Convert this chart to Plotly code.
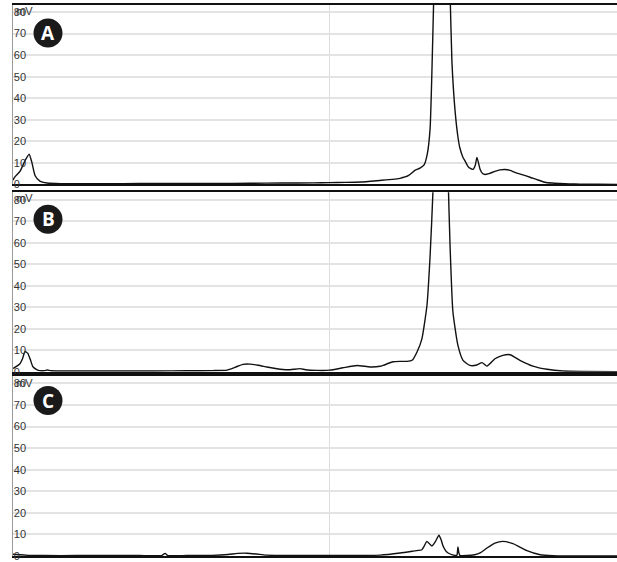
import plotly.graph_objects as go

# ---------------- data (time in min, signal in mV) ----------------
tA = [0, 0.06, 0.22, 0.38, 0.51, 0.60, 0.70, 0.85, 1.08, 1.5, 2.5, 3.5, 4.5, 5.5, 6.5, 7.5,
      8.5, 9.5, 10.0, 10.5, 11.0, 11.6, 12.0, 12.24, 12.5, 12.71, 12.87, 13.0, 13.1, 13.19,
      13.25, 13.31, 13.44, 13.57, 13.69, 13.82, 13.88, 13.98, 14.07, 14.13, 14.23, 14.29,
      14.38, 14.45, 14.55, 14.62, 14.67, 14.72, 14.77, 14.85, 14.93, 15.05, 15.24, 15.4,
      15.56, 15.72, 15.87, 16.1, 16.35, 16.6, 16.82, 17.05, 17.3, 17.6, 17.93, 18.5, 19.1]
vA = [2, 3.5, 6, 11, 14, 10, 4, 1.5, 0.6, 0.3, 0.3, 0.35, 0.4, 0.4, 0.45, 0.5,
      0.6, 0.7, 0.8, 0.9, 1.1, 1.8, 2.3, 2.8, 4, 6.5, 7.5, 9, 14, 26,
      54, 90, 170, 210, 170, 90, 57, 34, 22, 17, 12.5, 11,
      8.5, 7.5, 7, 9, 12.5, 10, 7, 5, 4.6, 5, 6, 6.7,
      6.9, 6.5, 5.6, 4.5, 3.3, 2, 1, 0.6, 0.4, 0.2, 0.1, 0.05, 0]

tB = [0, 0.06, 0.22, 0.30, 0.38, 0.47, 0.55, 0.63, 0.75, 0.85, 1.0, 1.08, 1.2, 1.5, 2.5,
      3.5, 4.5, 5.5, 6.3, 6.77, 7.02, 7.27, 7.49, 7.75, 8.03, 8.3, 8.54, 8.76, 9.08, 9.25,
      9.61, 10.02, 10.43, 10.88, 11.29, 11.61, 11.70, 12.02, 12.24, 12.46, 12.62, 12.78,
      12.93, 13.09, 13.19, 13.28, 13.4, 13.52, 13.64, 13.76, 13.82, 13.91, 14.07, 14.23,
      14.45, 14.67, 14.83, 14.99, 15.24, 15.49, 15.72, 16.03, 16.44, 16.89, 17.39, 18.0, 19.1]
vB = [1.5, 2, 3.7, 6, 9.4, 8.5, 5.5, 2.3, 1, 0.5, 0.5, 0.8, 0.4, 0.3, 0.3,
      0.3, 0.3, 0.4, 0.5, 0.7, 2, 3.4, 3.5, 3, 2.2, 1.5, 1.0, 0.9, 1.4, 0.9,
      0.6, 0.7, 1.8, 2.9, 2.2, 2.5, 2.9, 4.6, 4.8, 4.8, 5.3, 9.3,
      15.3, 30.8, 54, 84, 160, 200, 160, 90, 59, 28, 12.2, 5.3,
      2.9, 3.1, 4.2, 2.6, 6, 7.6, 7.9, 5.3, 2.6, 1.1, 0.3, 0.1, 0]

tC = [0, 0.2, 0.5, 1.0, 2.0, 3.0, 4.0, 4.7, 4.81, 4.9, 5.5, 6.3, 6.8, 7.1, 7.4, 7.7, 8.0,
      8.5, 9.5, 10.5, 11.29, 11.61, 12.24, 12.7, 12.93, 13.0, 13.09, 13.2, 13.25, 13.35,
      13.47, 13.55, 13.60, 13.68, 13.76, 13.9, 13.98, 14.04, 14.07, 14.10, 14.13, 14.36,
      14.6, 14.77, 14.99, 15.24, 15.49, 15.81, 16.25, 16.67, 17.08, 17.5, 19.1]
vC = [0.8, 0.6, 0.3, 0.2, 0.2, 0.2, 0.2, 0.2, 1.2, 0.2, 0.2, 0.3, 0.7, 1.2, 1.3, 0.9, 0.4,
      0.3, 0.3, 0.3, 0.3, 0.4, 1.4, 2.4, 2.9, 4.5, 6.8, 5.2, 4.6, 6.5,
      9.6, 7, 4.6, 2.5, 1.4, 0.5, 0.3, 0.5, 4.2, 1.5, 0.3, 0.2,
      0.6, 1.4, 3.7, 6, 6.8, 5.7, 2.5, 0.6, 0.1, 0, 0]

panel_letters = ["A", "B", "C"]
y_ticks = [0, 10, 20, 30, 40, 50, 60, 70, 80]
y_unit = "mV"
x_range = [0, 19.1]
x_grid = [10]

# ---------------- figure ----------------
W, H = 617, 562
ML, MR, MT, MB = 13, 0, 5, 4
ph = H - MT - MB

def py(ypix):  # pixel y (from top) -> paper y
    return (H - MB - ypix) / ph

def px(xpix):
    return (xpix - ML) / (W - ML - MR)

domains = [(py(185), 1.0), (py(373), py(193)), (0.0, py(377))]
yranges = [[0, 83.3], [0, 83.5], [0, 83.6]]
series = [(tA, vA), (tB, vB), (tC, vC)]

fig = go.Figure()
for i, (t, v) in enumerate(series):
    n = "" if i == 0 else str(i + 1)
    fig.add_trace(go.Scatter(x=t, y=v, mode="lines", xaxis="x" + n, yaxis="y" + n,
                             line=dict(color="#111111", width=1.4, shape="spline", smoothing=0.5),
                             showlegend=False, hoverinfo="skip"))
    fig.layout["xaxis" + n] = dict(domain=[0, 1], anchor="y" + n, range=x_range,
                                   tickvals=x_grid, showticklabels=False, ticks="",
                                   showgrid=True, gridcolor="#dcdcdc", gridwidth=1,
                                   zeroline=False, showline=True, linecolor="#111111",
                                   linewidth=2.2, mirror=True)
    fig.layout["yaxis" + n] = dict(domain=list(domains[i]), anchor="x" + n, range=yranges[i],
                                   tickvals=y_ticks, ticktext=[str(k) for k in y_ticks],
                                   ticklabelposition="inside", ticklabeloverflow="allow",
                                   ticks="", showgrid=True, gridcolor="#e3e3e3", gridwidth=1.5,
                                   zeroline=False, showline=True, linecolor="#9a9a9a",
                                   linewidth=1,
                                   tickfont=dict(family="Liberation Sans, Arial", size=11,
                                                 color="#333333"))

# circled panel letters
centers = [33, 220, 402]
shapes, annots = [], []
for letter, cy in zip(panel_letters, centers):
    shapes.append(dict(type="circle", xref="paper", yref="paper",
                       xsizemode="pixel", ysizemode="pixel",
                       xanchor=px(48), yanchor=py(cy), x0=-14.5, x1=14.5, y0=-14.5, y1=14.5,
                       fillcolor="#1a1a1a", line=dict(width=0)))
    annots.append(dict(x=px(48), y=py(cy), xref="paper", yref="paper", text="<b>%s</b>" % letter,
                       showarrow=False, xanchor="center", yanchor="middle",
                       font=dict(family="Open Sans, Liberation Sans", size=19, color="white")))

# unit text drawn over the top tick label of each panel, as in the source chart
for top in [11, 199, 384]:
    annots.append(dict(x=px(14), y=py(top), xref="paper", yref="paper", text=y_unit,
                       showarrow=False, xanchor="left", yanchor="middle",
                       font=dict(family="Liberation Sans, Arial", size=11, color="#333333")))

fig.update_layout(width=W, height=H, margin=dict(l=ML, r=MR, t=MT, b=MB),
                  paper_bgcolor="white", plot_bgcolor="white",
                  shapes=shapes, annotations=annots)

fig.write_html("out.html")
